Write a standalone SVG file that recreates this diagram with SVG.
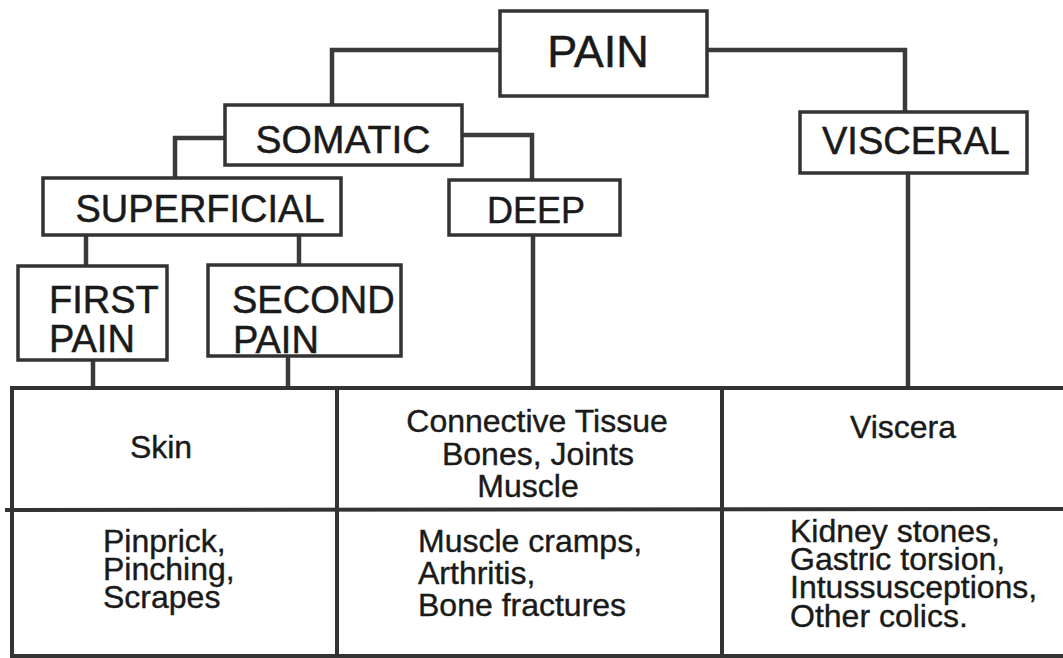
<svg xmlns="http://www.w3.org/2000/svg" width="1063" height="658" viewBox="0 0 1063 658">
<style>
.box{fill:#fff;stroke:#333;stroke-width:3.5}
.conn{fill:none;stroke:#3a3a3a;stroke-width:4.5;stroke-linejoin:miter}
.grid{fill:none;stroke:#333;stroke-width:4}
.lbl{font-family:"Liberation Sans",Arial,sans-serif;fill:#1a1a1a;stroke:#1a1a1a;stroke-width:0.5;font-size:38px}
.cell{font-family:"Liberation Sans",Arial,sans-serif;fill:#1a1a1a;stroke:#1a1a1a;stroke-width:0.4;font-size:32px}
</style>
<rect width="1063" height="658" fill="#fff"/>
<g id="connectors">
<polyline class="conn" points="500,50 332,50 332,105"/>
<polyline class="conn" points="707,50 905,50 905,112"/>
<polyline class="conn" points="225,138 175,138 175,178"/>
<polyline class="conn" points="462,135 532,135 532,180"/>
<line class="conn" x1="86" y1="235" x2="86" y2="266"/>
<line class="conn" x1="299" y1="235" x2="299" y2="265"/>
<line class="conn" x1="93" y1="360" x2="93" y2="388"/>
<line class="conn" x1="288" y1="356" x2="288" y2="388"/>
<line class="conn" x1="533" y1="235" x2="533" y2="388"/>
<line class="conn" x1="908" y1="173" x2="908" y2="388"/>
</g>
<g id="table">
<line class="grid" x1="10" y1="388" x2="1063" y2="388"/>
<line class="grid" x1="5" y1="510" x2="1063" y2="509"/>
<line class="grid" x1="10" y1="656" x2="1063" y2="656"/>
<line class="grid" x1="12" y1="386" x2="12" y2="658"/>
<line class="grid" x1="337" y1="386" x2="337" y2="658"/>
<line class="grid" x1="722" y1="386" x2="722" y2="658"/>
</g>
<g id="pain">
<rect class="box" x="500" y="11" width="207" height="85"/>
<text class="lbl" x="598" y="67" text-anchor="middle" style="font-size:45px">PAIN</text>
</g>
<g id="somatic">
<rect class="box" x="225" y="105" width="237" height="60"/>
<text class="lbl" x="343" y="153" text-anchor="middle" style="font-size:39px">SOMATIC</text>
</g>
<g id="visceral">
<rect class="box" x="800" y="112" width="227" height="61"/>
<text class="lbl" x="916" y="154" text-anchor="middle">VISCERAL</text>
</g>
<g id="superficial">
<rect class="box" x="43" y="178" width="298" height="57"/>
<text class="lbl" x="200" y="222" text-anchor="middle">SUPERFICIAL</text>
</g>
<g id="deep">
<rect class="box" x="449" y="180" width="171" height="55"/>
<text class="lbl" x="536" y="223" text-anchor="middle" style="font-size:36px">DEEP</text>
</g>
<g id="first-pain">
<rect class="box" x="18" y="266" width="149" height="94"/>
<text class="lbl" x="49" y="313">FIRST</text>
<text class="lbl" x="49" y="352">PAIN</text>
</g>
<g id="second-pain">
<rect class="box" x="208" y="265" width="193" height="91"/>
<text class="lbl" x="232" y="313">SECOND</text>
<text class="lbl" x="233" y="353">PAIN</text>
</g>
<g id="cells">
<text class="cell" x="161" y="458" text-anchor="middle">Skin</text>
<text class="cell" x="537" y="432" text-anchor="middle">Connective Tissue</text>
<text class="cell" x="538" y="465" text-anchor="middle">Bones, Joints</text>
<text class="cell" x="528" y="497" text-anchor="middle">Muscle</text>
<text class="cell" x="903" y="438" text-anchor="middle">Viscera</text>
<text class="cell" x="103" y="552">Pinprick,</text>
<text class="cell" x="103" y="580">Pinching,</text>
<text class="cell" x="103" y="608">Scrapes</text>
<text class="cell" x="418" y="552">Muscle cramps,</text>
<text class="cell" x="418" y="584">Arthritis,</text>
<text class="cell" x="418" y="616">Bone fractures</text>
<text class="cell" x="790" y="542">Kidney stones,</text>
<text class="cell" x="790" y="570">Gastric torsion,</text>
<text class="cell" x="790" y="598">Intussusceptions,</text>
<text class="cell" x="790" y="627">Other colics.</text>
</g>
</svg>
